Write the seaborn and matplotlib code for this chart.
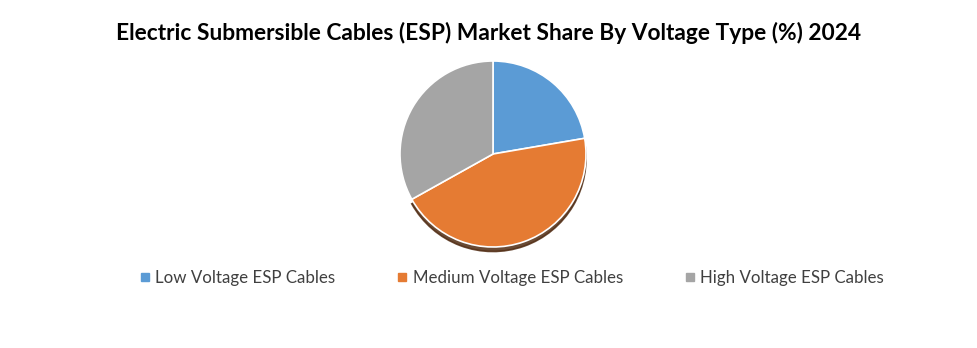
import matplotlib
matplotlib.use("Agg")
import matplotlib.pyplot as plt
import seaborn as sns
from matplotlib.lines import Line2D
from matplotlib.patches import Shadow

sns.set_theme(style="white")
plt.rcParams['font.family'] = ['Lato', 'DejaVu Sans']

categories = ["Low Voltage ESP Cables", "Medium Voltage ESP Cables", "High Voltage ESP Cables"]
shares = [22.3, 44.6, 33.1]
colors = ["#5B9BD5", "#E57B33", "#A5A5A5"]
title = "Electric Submersible Cables (ESP) Market Share By Voltage Type (%) 2024"

fig = plt.figure(figsize=(9.77, 3.48), dpi=100)
fig.patch.set_facecolor("white")

cx, cy, r = 493 / 977, (348 - 154) / 348, 93
w, h = 2 * r / 977, 2 * r / 348
ax = fig.add_axes([cx - w / 2, cy - h / 2, w, h])
wedges, _ = ax.pie(shares, colors=colors, startangle=90, counterclock=False,
                   wedgeprops=dict(edgecolor="white", linewidth=1.2))
sh = Shadow(wedges[1], 0, -0.035, shade=0.65, alpha=0.85)
sh.set_zorder(wedges[1].get_zorder() - 0.1)
ax.add_patch(sh)
ax.set_xlim(-1, 1)
ax.set_ylim(-1, 1)
ax.set_aspect("equal")
ax.axis("off")

fig.text(0.5, 1 - 33 / 348, title, ha="center", va="center",
         fontsize=16.4, fontweight="bold", color="#000000")

handles = [Line2D([0], [0], marker="s", linestyle="", markersize=5.2,
                  markerfacecolor=c, markeredgecolor=c) for c in colors]
fig.legend(handles, categories, loc="center", bbox_to_anchor=(511 / 977, 1 - 278 / 348),
           ncol=3, frameon=False, fontsize=12.2, handletextpad=0.2,
           columnspacing=3.55, handlelength=0.8, labelcolor="#404040")

fig.savefig("out.png", dpi=100, facecolor="white")
